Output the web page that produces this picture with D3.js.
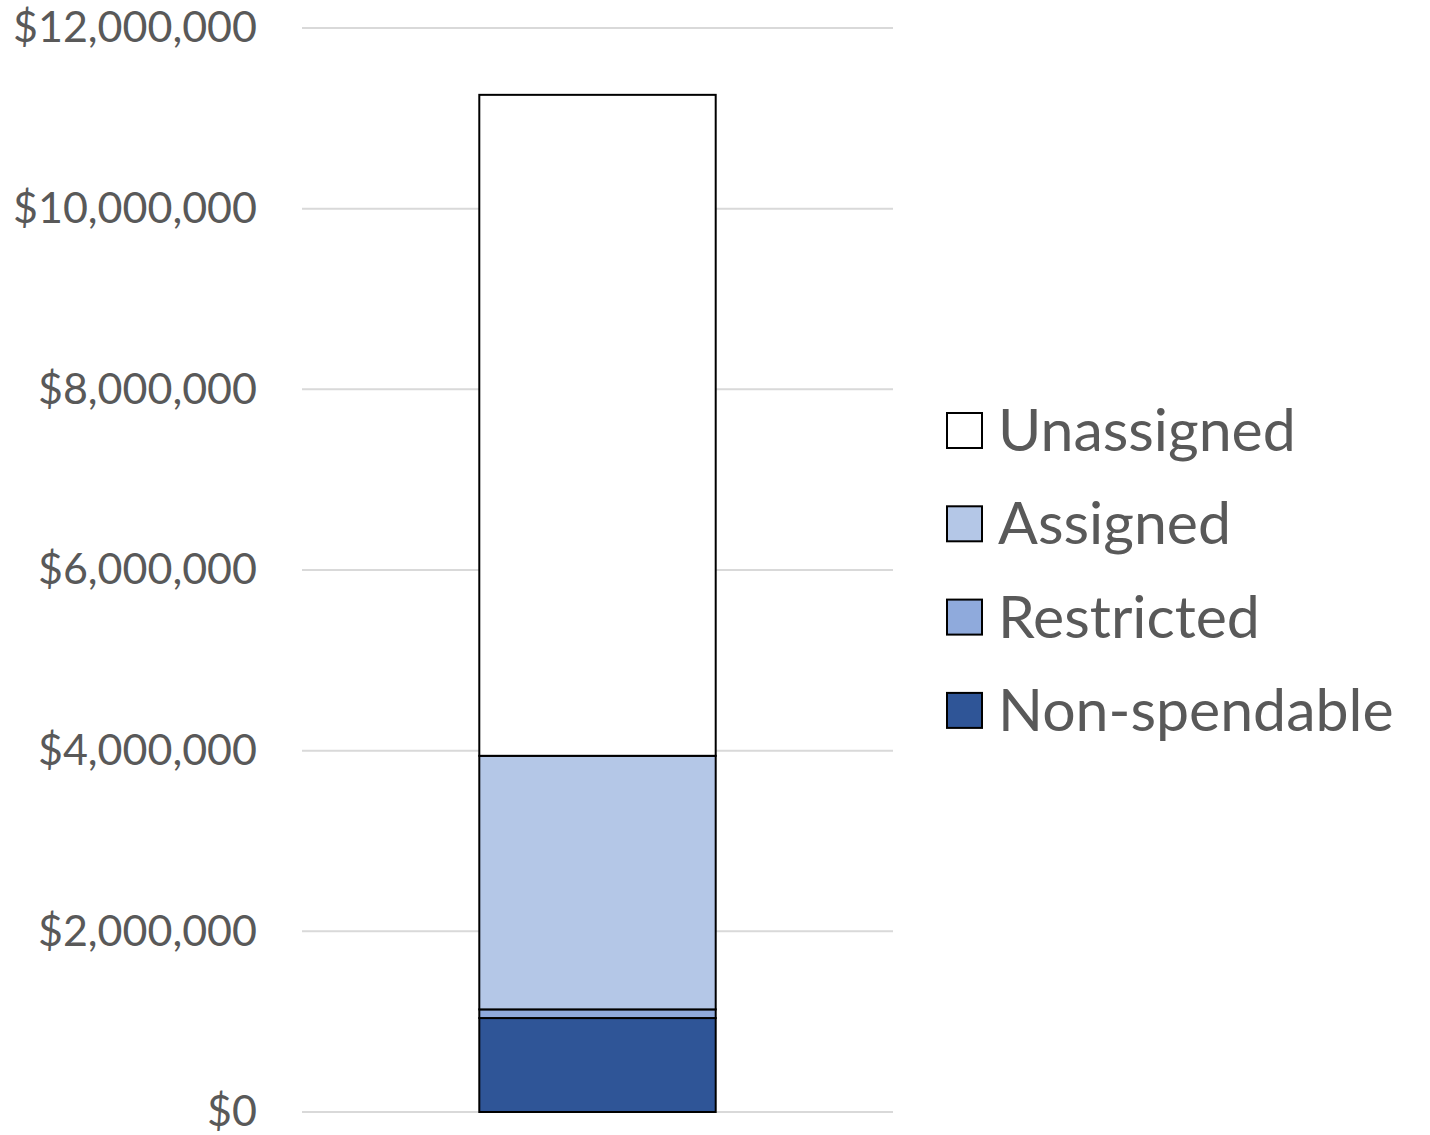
<!DOCTYPE html>
<html>
<head>
<meta charset="utf-8">
<script src="https://d3js.org/d3.v7.min.js"></script>
<style>
  body { margin: 0; background: #fff; }
  text { font-family: Lato, "Liberation Sans", sans-serif; fill: #595959; }
</style>
</head>
<body>
<div id="chart"></div>
<script>
// values (dollars)
const categories = ["Fund Balance"];
const seriesNames = ["Non-spendable", "Restricted", "Assigned", "Unassigned"];
const nonSpendable = [1040000];
const restricted = [96000];
const assigned = [2807000];
const unassigned = [7317000];
const yTicks = [0, 2000000, 4000000, 6000000, 8000000, 10000000, 12000000];
const colors = ["#2F5597", "#8FAADC", "#B4C7E7", "#FFFFFF"];

const width = 1430, height = 1135;
const margin = { top: 28, right: 537, bottom: 23, left: 302 };

const svg = d3.select("#chart").append("svg")
    .attr("width", width)
    .attr("height", height);

const g = svg.append("g")
    .attr("transform", `translate(${margin.left},${margin.top})`);

const innerW = width - margin.left - margin.right;
const innerH = height - margin.top - margin.bottom;

const x = d3.scaleBand().domain(categories).range([0, innerW]).paddingInner(0.6).paddingOuter(0.3);
const y = d3.scaleLinear().domain([0, 12000000]).range([innerH, 0]);

// gridlines
g.append("g").selectAll("line").data(yTicks).join("line")
    .attr("x1", 0).attr("x2", innerW)
    .attr("y1", d => y(d)).attr("y2", d => y(d))
    .attr("stroke", "#d9d9d9").attr("stroke-width", 2);

// axis labels
const fmt = d3.format("$,");
const yAxis = g.append("g")
    .call(d3.axisLeft(y).tickValues(yTicks).tickFormat(d => fmt(d)).tickSize(0).tickPadding(45));
yAxis.select(".domain").remove();
yAxis.selectAll("text")
    .style("font-size", "43px")
    .style("font-family", "Lato, 'Liberation Sans', sans-serif")
    .attr("fill", "#595959");

// stacked bar
const rows = categories.map((c, i) => ({
    cat: c,
    "Non-spendable": nonSpendable[i],
    "Restricted": restricted[i],
    "Assigned": assigned[i],
    "Unassigned": unassigned[i]
}));
const stack = d3.stack().keys(seriesNames)(rows);

g.append("g").selectAll("g").data(stack).join("g")
    .attr("fill", (d, i) => colors[i])
    .selectAll("rect").data(d => d).join("rect")
    .attr("x", d => x(d.data.cat))
    .attr("width", x.bandwidth())
    .attr("y", d => y(d[1]))
    .attr("height", d => y(d[0]) - y(d[1]))
    .attr("stroke", "#000")
    .attr("stroke-width", 2);

// legend (top to bottom: reverse order)
const legendItems = seriesNames.map((n, i) => ({ name: n, color: colors[i] })).reverse();
const legend = svg.append("g").attr("transform", "translate(947,413)");
const item = legend.selectAll("g").data(legendItems).join("g")
    .attr("transform", (d, i) => `translate(0,${i * 93.3})`);
item.append("rect")
    .attr("width", 35).attr("height", 35)
    .attr("fill", d => d.color)
    .attr("stroke", "#000").attr("stroke-width", 2);
item.append("text")
    .attr("x", 51).attr("y", 17.5)
    .attr("dy", "0.35em")
    .style("font-size", "59px")
    .text(d => d.name);
</script>
</body>
</html>
